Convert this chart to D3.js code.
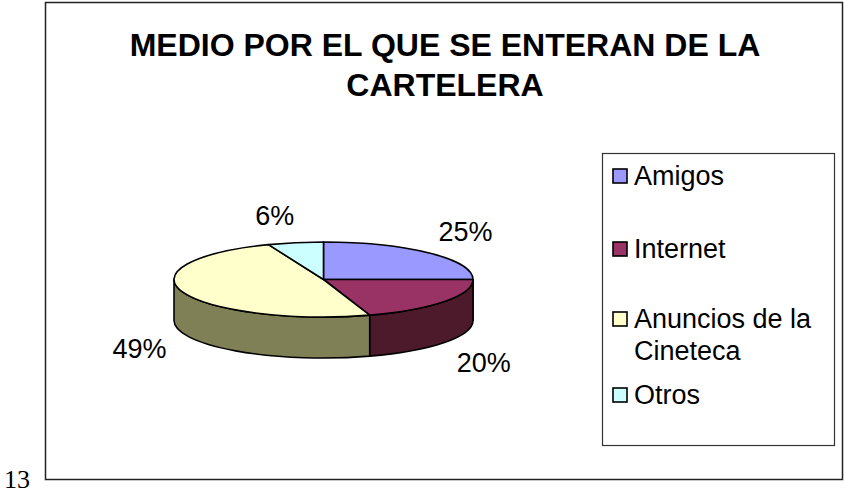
<!DOCTYPE html>
<html>
<head>
<meta charset="utf-8">
<script src="https://cdn.jsdelivr.net/npm/d3@7"></script>
<style>
  body { margin: 0; background: #fff; }
  svg { display: block; font-family: "Liberation Sans", Arial, sans-serif; }
</style>
</head>
<body>
<svg id="chart" width="844" height="495"></svg>
<script>
// chart data
const categories = ["Amigos", "Internet", "Anuncios de la Cineteca", "Otros"];
const values = [25, 20, 49, 6];
const legendLines = [["Amigos"], ["Internet"], ["Anuncios de la", "Cineteca"], ["Otros"]];
const colors = ["#9999ff", "#993366", "#ffffcc", "#ccffff"];
const title = ["MEDIO POR EL QUE SE ENTERAN DE LA", "CARTELERA"];
const pageNumber = "13";

const svg = d3.select("#chart");

// outer chart frame
svg.append("rect")
  .attr("x", 45.5).attr("y", 2.5)
  .attr("width", 797).attr("height", 477)
  .attr("fill", "#fff")
  .attr("stroke", "#222")
  .attr("stroke-width", 1.5);

svg.append("text")
  .attr("x", 4).attr("y", 488)
  .style("font-family", "'Liberation Serif', 'Times New Roman', serif")
  .style("font-size", "26px")
  .text(pageNumber);

// title
svg.append("g").selectAll("text").data(title).enter().append("text")
  .attr("x", 445)
  .attr("y", (d, i) => 56 + i * 40)
  .attr("text-anchor", "middle")
  .style("font-weight", "bold")
  .style("font-size", "32px")
  .text(d => d);

// pseudo-3D pie
const cx = 323.5, cy = 279.5, rx = 149.5, ry = 37.5, depth = 41;
const pie = d3.pie().sort(null).startAngle(0).endAngle(2 * Math.PI);
const arcs = pie(values);

const pt = (a, dy = 0) => [cx + rx * Math.sin(a), cy - ry * Math.cos(a) + dy];

function topPath(d) {
  const p0 = pt(d.startAngle), p1 = pt(d.endAngle);
  const large = d.endAngle - d.startAngle > Math.PI ? 1 : 0;
  return `M${cx},${cy}L${p0}A${rx},${ry} 0 ${large} 1 ${p1}Z`;
}
function sidePath(d) {
  const s = Math.max(d.startAngle, Math.PI / 2);
  const e = Math.min(d.endAngle, 3 * Math.PI / 2);
  if (s >= e) return null;
  const p0 = pt(s), p1 = pt(e), q1 = pt(e, depth), q0 = pt(s, depth);
  return `M${p0}A${rx},${ry} 0 0 1 ${p1}L${q1}A${rx},${ry} 0 0 0 ${q0}Z`;
}
const darken = c => { const r = d3.rgb(c); return d3.rgb(r.r * 0.5, r.g * 0.5, r.b * 0.42); };

const pieG = svg.append("g");
pieG.selectAll(".side").data(arcs.filter(d => sidePath(d))).enter().append("path")
  .attr("class", "side")
  .attr("d", sidePath)
  .attr("fill", d => darken(colors[d.index]))
  .attr("stroke", "#000")
  .attr("stroke-width", 1.6)
  .attr("stroke-linejoin", "round");

pieG.selectAll(".top").data(arcs).enter().append("path")
  .attr("class", "top")
  .attr("d", topPath)
  .attr("fill", d => colors[d.index])
  .attr("stroke", "#000")
  .attr("stroke-width", 1.6)
  .attr("stroke-linejoin", "round");

// percentage labels, placed just outside the rim at each slice's mid angle
const total = d3.sum(values);
const labelPos = d => {
  const a = (d.startAngle + d.endAngle) / 2;
  const c = Math.cos(a), s = Math.sin(a);
  const p = pt(a, c < 0 ? depth : 0);
  return [p[0] + s * 30 + Math.sign(s) * 15, p[1] - c * 20 - Math.sign(c) * 8];
};
pieG.selectAll(".lbl").data(arcs).enter().append("text")
  .attr("class", "lbl")
  .attr("x", d => labelPos(d)[0])
  .attr("y", d => labelPos(d)[1] + 10)
  .attr("text-anchor", "middle")
  .style("font-size", "27px")
  .text(d => Math.round(d.value / total * 100) + "%");

// legend
const legend = svg.append("g");
legend.append("rect")
  .attr("x", 602.5).attr("y", 153.5)
  .attr("width", 232).attr("height", 292)
  .attr("fill", "#fff")
  .attr("stroke", "#333")
  .attr("stroke-width", 1.2);

const item = legend.selectAll(".item").data(categories).enter().append("g")
  .attr("class", "item")
  .attr("transform", (d, i) => `translate(613,${[185, 258, 328, 404][i]})`);

item.append("rect")
  .attr("x", 0).attr("y", -16)
  .attr("width", 14).attr("height", 14)
  .attr("fill", (d, i) => colors[i])
  .attr("stroke", "#000")
  .attr("stroke-width", 1.6);

item.append("text")
  .attr("x", 21).attr("y", 0)
  .style("font-size", "27px")
  .selectAll("tspan").data((d, i) => legendLines[i]).enter().append("tspan")
  .attr("x", 21)
  .attr("dy", (d, j) => j ? 32 : 0)
  .text(d => d);
</script>
</body>
</html>
